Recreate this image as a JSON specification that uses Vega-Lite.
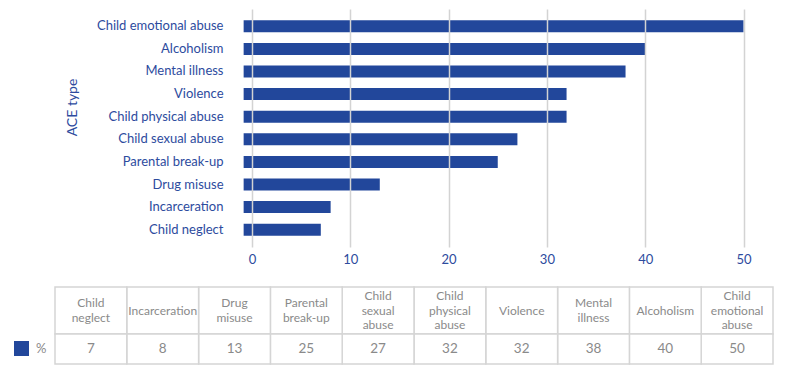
{
  "$schema": "https://vega.github.io/schema/vega-lite/v6.json",
  "background": "white",
  "padding": {"left": 7, "top": 9, "right": 5, "bottom": 5},
  "config": {"font": "Lato", "view": {"stroke": null}},
  "datasets": {
    "ace": [
      {"type": "Child emotional abuse", "pct": 50},
      {"type": "Alcoholism", "pct": 40},
      {"type": "Mental illness", "pct": 38},
      {"type": "Violence", "pct": 32},
      {"type": "Child physical abuse", "pct": 32},
      {"type": "Child sexual abuse", "pct": 27},
      {"type": "Parental break-up", "pct": 25},
      {"type": "Drug misuse", "pct": 13},
      {"type": "Incarceration", "pct": 8},
      {"type": "Child neglect", "pct": 7}
    ]
  },
  "bounds": "flush",
  "spacing": 40,
  "resolve": {"scale": {"color": "independent"}, "legend": {"color": "independent"}},
  "vconcat": [
    {
      "data": {"name": "ace"},
      "width": 718,
      "height": 238,
      "mark": {"type": "bar", "color": "#22479b"},
      "encoding": {
        "y": {
          "field": "type",
          "type": "nominal",
          "sort": ["Child emotional abuse", "Alcoholism", "Mental illness", "Violence", "Child physical abuse", "Child sexual abuse", "Parental break-up", "Drug misuse", "Incarceration", "Child neglect"],
          "scale": {"paddingInner": 0.47, "paddingOuter": 0.5},
          "axis": {
            "title": "ACE type",
            "offset": -175,
            "ticks": false,
            "domain": false,
            "grid": false,
            "labelPadding": 7,
            "labelFontSize": 13,
            "labelColor": "#2d4b9e",
            "titleColor": "#2d4b9e",
            "titleFontSize": 14,
            "titleFontWeight": "normal",
            "titleX": -151,
            "titleY": 98
          }
        },
        "x": {
          "field": "pct",
          "type": "quantitative",
          "scale": {"domain": [-20.04, 53], "nice": false, "zero": false},
          "axis": {
            "title": null,
            "values": [0, 10, 20, 30, 40, 50],
            "grid": true,
            "gridColor": "#d3d3d3",
            "gridWidth": 1.5,
            "domain": false,
            "ticks": false,
            "labelPadding": 6,
            "labelFontSize": 13,
            "labelColor": "#2d4b9e",
            "zindex": 1
          }
        },
        "x2": {"datum": -0.85}
      }
    },
    {
      "bounds": "flush",
      "spacing": 0,
      "resolve": {"scale": {"color": "independent"}, "legend": {"color": "independent"}},
      "vconcat": [
        {
          "data": {"name": "ace"},
          "width": 718,
          "height": 47,
          "encoding": {
            "x": {
              "field": "type",
              "type": "nominal",
              "sort": ["Child neglect", "Incarceration", "Drug misuse", "Parental break-up", "Child sexual abuse", "Child physical abuse", "Violence", "Mental illness", "Alcoholism", "Child emotional abuse"],
              "axis": null
            }
          },
          "layer": [
            {"mark": {"type": "rect", "fill": "white", "stroke": "#d5d5d5", "strokeWidth": 1.5}},
            {
              "transform": [{"filter": "length(split(datum.type, ' ')) == 1"}],
              "mark": {"type": "text", "lineBreak": " ", "fontSize": 12, "color": "#8a8a8a", "lineHeight": 14.5, "baseline": "middle", "align": "center"},
              "encoding": {"text": {"field": "type", "type": "nominal"}}
            },
            {
              "transform": [{"filter": "length(split(datum.type, ' ')) == 2"}],
              "mark": {"type": "text", "lineBreak": " ", "fontSize": 12, "color": "#8a8a8a", "lineHeight": 15, "baseline": "middle", "align": "center", "dy": -7.5},
              "encoding": {"text": {"field": "type", "type": "nominal"}}
            },
            {
              "transform": [{"filter": "length(split(datum.type, ' ')) == 3"}],
              "mark": {"type": "text", "lineBreak": " ", "fontSize": 12, "color": "#8a8a8a", "lineHeight": 14.5, "baseline": "middle", "align": "center", "dy": -14.5},
              "encoding": {"text": {"field": "type", "type": "nominal"}}
            }
          ]
        },
        {
          "data": {"name": "ace"},
          "width": 718,
          "height": 30,
          "encoding": {
            "x": {
              "field": "type",
              "type": "nominal",
              "sort": ["Child neglect", "Incarceration", "Drug misuse", "Parental break-up", "Child sexual abuse", "Child physical abuse", "Violence", "Mental illness", "Alcoholism", "Child emotional abuse"],
              "axis": null
            }
          },
          "layer": [
            {"mark": {"type": "rect", "fill": "white", "stroke": "#d5d5d5", "strokeWidth": 1.5}},
            {
              "mark": {"type": "text", "fontSize": 13.5, "color": "#8a8a8a", "baseline": "middle", "align": "center"},
              "encoding": {"text": {"field": "pct", "type": "quantitative"}}
            },
            {
              "mark": {"type": "square", "opacity": 0},
              "encoding": {
                "color": {
                  "datum": "%",
                  "scale": {"range": ["#22479b"]},
                  "legend": {
                    "orient": "left",
                    "title": null,
                    "symbolType": "square",
                    "symbolSize": 225,
                    "symbolStrokeWidth": 0,
                    "symbolOpacity": 1,
                    "labelFontSize": 13,
                    "labelColor": "#8a8a8a",
                    "labelOffset": 7,
                    "padding": 7,
                    "offset": 1
                  }
                }
              }
            }
          ]
        }
      ]
    }
  ]
}
